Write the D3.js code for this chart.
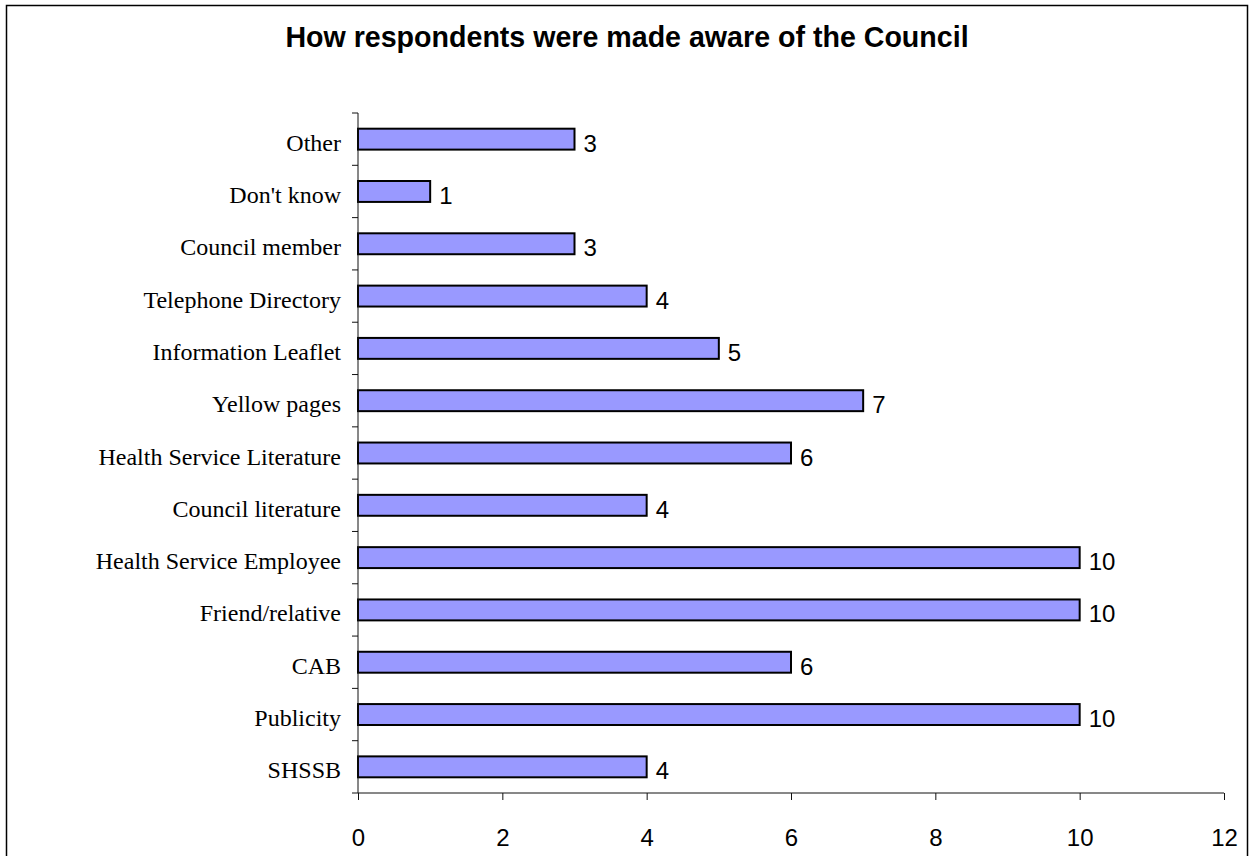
<!DOCTYPE html>
<html>
<head>
<meta charset="utf-8">
<script src="https://cdn.jsdelivr.net/npm/d3@7"></script>
<style>
  html, body { margin: 0; padding: 0; background: #fff; }
  svg { display: block; }
</style>
</head>
<body>
<svg id="chart" width="1254" height="856"></svg>
<script>
// Survey answers, listed from the top row of the chart to the bottom
const categories = [
  "Other", "Don't know", "Council member", "Telephone Directory",
  "Information Leaflet", "Yellow pages", "Health Service Literature",
  "Council literature", "Health Service Employee", "Friend/relative",
  "CAB", "Publicity", "SHSSB"
];
const counts = [3, 1, 3, 4, 5, 7, 6, 4, 10, 10, 6, 10, 4];
const xTicks = [0, 2, 4, 6, 8, 10, 12];
const chartTitle = "How respondents were made aware of the Council";

const svg = d3.select("#chart");

// outer frame
svg.append("rect")
  .attr("x", 6.5).attr("y", 5.5)
  .attr("width", 1241).attr("height", 900)
  .attr("fill", "#fff").attr("stroke", "#000").attr("stroke-width", 1.5);

const plot = { left: 358, right: 1224, top: 113, bottom: 793 };

const x = d3.scaleLinear().domain([0, 12]).range([plot.left, plot.right]);
const y = d3.scaleBand().domain(categories)
  .range([plot.top, plot.bottom]).paddingInner(0.6).paddingOuter(0.3);
const yBand = d3.scaleBand().domain(categories).range([plot.top, plot.bottom]);

// title
svg.append("text")
  .attr("x", 627).attr("y", 47)
  .attr("text-anchor", "middle")
  .attr("font-family", "Liberation Sans, Arial, sans-serif")
  .attr("font-weight", "bold").attr("font-size", 28.6)
  .text(chartTitle);

// bars
svg.append("g").selectAll("rect")
  .data(categories)
  .join("rect")
  .attr("x", x(0))
  .attr("y", d => y(d))
  .attr("width", (d, i) => x(counts[i]) - x(0))
  .attr("height", y.bandwidth())
  .attr("fill", "#9999FF")
  .attr("stroke", "#000").attr("stroke-width", 2);

// value labels
svg.append("g").selectAll("text")
  .data(categories)
  .join("text")
  .attr("x", (d, i) => x(counts[i]) + 9)
  .attr("y", d => y(d) + y.bandwidth() / 2 + 12.5)
  .attr("font-family", "Liberation Sans, Arial, sans-serif")
  .attr("font-size", 24)
  .text((d, i) => counts[i]);

// x axis
const xAxis = svg.append("g")
  .attr("transform", `translate(0,${plot.bottom})`)
  .call(d3.axisBottom(x).tickValues(xTicks).tickSize(7).tickPadding(29).tickFormat(d3.format("d")));
xAxis.select(".domain").attr("d", `M${plot.left},0H${plot.right}`).attr("stroke", "#111");
xAxis.selectAll(".tick line").attr("stroke", "#111");
xAxis.selectAll("text")
  .attr("font-family", "Liberation Sans, Arial, sans-serif")
  .attr("font-size", 24).attr("fill", "#000");

// y axis: category labels centred on bands, ticks on band boundaries
const yAxis = svg.append("g").attr("transform", `translate(${plot.left},0)`);
yAxis.append("line")
  .attr("x1", 0).attr("x2", 0).attr("y1", plot.top).attr("y2", plot.bottom)
  .attr("stroke", "#111");
const boundaries = categories.map(c => yBand(c)).concat([plot.bottom]);
yAxis.selectAll("line.tk")
  .data(boundaries)
  .join("line").attr("class", "tk")
  .attr("x1", -6).attr("x2", 0)
  .attr("y1", d => d).attr("y2", d => d)
  .attr("stroke", "#111");
yAxis.selectAll("text")
  .data(categories)
  .join("text")
  .attr("x", -17)
  .attr("y", d => yBand(d) + yBand.bandwidth() / 2 + 11.5)
  .attr("text-anchor", "end")
  .attr("font-family", "Liberation Serif, Times New Roman, serif")
  .attr("font-size", 24)
  .text(d => d);
</script>
</body>
</html>
